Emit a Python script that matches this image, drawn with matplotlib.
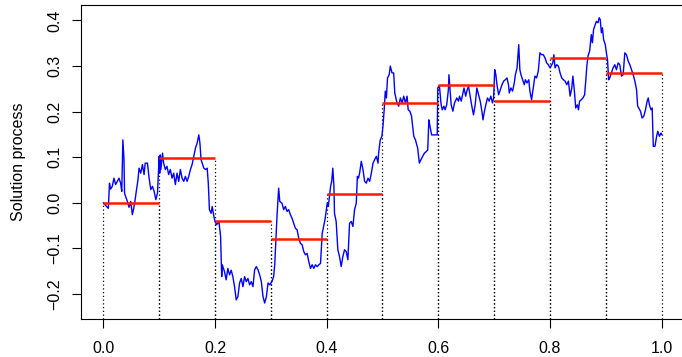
import matplotlib
matplotlib.use("Agg")
import matplotlib.pyplot as plt

plt.rcParams['font.family'] = ['Liberation Sans', 'DejaVu Sans']

# Solution path
t = [0.000, 0.007, 0.009, 0.011, 0.013, 0.016, 0.019, 0.022, 0.025, 0.028, 0.031, 0.033, 0.035, 0.037, 0.038,
     0.041, 0.044, 0.046, 0.049, 0.052, 0.054, 0.057, 0.059, 0.062, 0.064, 0.067, 0.070, 0.073, 0.075, 0.079,
     0.082, 0.085, 0.088, 0.091, 0.094, 0.097, 0.100, 0.101, 0.102, 0.103, 0.106, 0.108, 0.111, 0.114, 0.117,
     0.120, 0.123, 0.126, 0.129, 0.132, 0.135, 0.138, 0.141, 0.144, 0.147, 0.150, 0.153, 0.156, 0.159, 0.162,
     0.165, 0.168, 0.171, 0.173, 0.175,
     0.180, 0.183, 0.186, 0.188, 0.190, 0.193, 0.195, 0.198, 0.200, 0.203, 0.207, 0.210, 0.212, 0.213, 0.217,
     0.220, 0.223, 0.226, 0.229, 0.232, 0.235, 0.238, 0.241, 0.244, 0.247, 0.250, 0.253, 0.256, 0.259, 0.262,
     0.265, 0.268, 0.271, 0.274, 0.277, 0.280, 0.283, 0.286, 0.289, 0.292, 0.295, 0.298, 0.302, 0.305, 0.307,
     0.311, 0.314, 0.316, 0.320, 0.323, 0.326, 0.329, 0.332, 0.335, 0.338, 0.341, 0.344, 0.347, 0.350, 0.353,
     0.356, 0.359, 0.362, 0.365, 0.368, 0.371, 0.374, 0.377, 0.380, 0.383, 0.386, 0.389,
     0.392, 0.397, 0.401, 0.403, 0.405, 0.407, 0.409, 0.411, 0.413, 0.414, 0.417, 0.420, 0.423, 0.426, 0.429,
     0.432, 0.435, 0.438, 0.441, 0.444, 0.447, 0.450, 0.453, 0.455, 0.457, 0.459, 0.462, 0.465, 0.468, 0.471,
     0.474, 0.477, 0.480, 0.483, 0.486, 0.489, 0.492, 0.493, 0.496, 0.499, 0.501, 0.503, 0.505, 0.507, 0.509,
     0.512, 0.514, 0.517, 0.520, 0.522, 0.526, 0.529, 0.532, 0.535, 0.538, 0.541, 0.544, 0.546, 0.549, 0.552,
     0.556, 0.559, 0.563, 0.566, 0.569, 0.572, 0.575, 0.578, 0.581, 0.583, 0.585, 0.588, 0.591, 0.595, 0.598,
     0.599, 0.602, 0.605, 0.607, 0.610, 0.612, 0.615, 0.618, 0.619, 0.621, 0.623, 0.626, 0.629, 0.633, 0.636,
     0.638, 0.641, 0.644, 0.646, 0.649, 0.651, 0.654, 0.656, 0.658, 0.660, 0.663, 0.666, 0.669, 0.672, 0.675,
     0.678, 0.680, 0.682, 0.685, 0.688, 0.691, 0.694, 0.697, 0.699, 0.701, 0.703, 0.705, 0.708, 0.711, 0.714,
     0.717, 0.720, 0.723, 0.726, 0.727, 0.730, 0.733, 0.736, 0.738, 0.741, 0.742, 0.744, 0.746, 0.748, 0.751,
     0.754, 0.756, 0.759, 0.762, 0.764, 0.767, 0.770, 0.773, 0.776, 0.779, 0.782,
     0.785, 0.788, 0.791, 0.794, 0.797, 0.800, 0.802, 0.805, 0.807, 0.809, 0.812, 0.815, 0.818, 0.821, 0.824,
     0.827, 0.830, 0.833, 0.836, 0.839, 0.841, 0.844, 0.846, 0.849, 0.851, 0.853, 0.856, 0.859, 0.862, 0.864,
     0.866, 0.868, 0.871, 0.874, 0.876, 0.878, 0.881, 0.883, 0.886, 0.888, 0.890, 0.892, 0.894, 0.896, 0.899,
     0.901, 0.903, 0.905, 0.907, 0.910, 0.913, 0.916, 0.919, 0.922, 0.925, 0.928, 0.931, 0.934, 0.937, 0.940,
     0.943, 0.946, 0.949, 0.952, 0.955, 0.957, 0.959, 0.962, 0.965, 0.968, 0.971, 0.974, 0.976, 0.978, 0.981,
     0.983, 0.985, 0.988, 0.991, 0.993, 0.996, 0.999, 1.000]

x = [0.000, -0.010, -0.012, 0.043, 0.030, 0.036, 0.054, 0.040, 0.047, 0.054, 0.043, 0.025, 0.138, 0.095, 0.021,
     0.010, 0.000, -0.010, 0.003, -0.026, -0.015, 0.007, 0.025, 0.050, 0.076, 0.065, 0.084, 0.062, 0.087, 0.087,
     0.054, 0.029, 0.036, 0.025, 0.007, 0.021, 0.102, 0.065, 0.105, 0.073, 0.109, 0.087, 0.073, 0.080, 0.062,
     0.073, 0.054, 0.065, 0.040, 0.065, 0.047, 0.073, 0.054, 0.047, 0.058, 0.047, 0.058, 0.073, 0.084, 0.102,
     0.120, 0.131, 0.149, 0.131, 0.095,
     0.076, 0.073, 0.076, 0.043, -0.015, -0.023, -0.008, -0.030, -0.041, -0.048, -0.041, -0.074, -0.162, -0.136, -0.151,
     -0.169, -0.144, -0.158, -0.148, -0.162, -0.184, -0.213, -0.206, -0.176, -0.166, -0.184, -0.162, -0.173, -0.166, -0.180,
     -0.173, -0.184, -0.147, -0.140, -0.147, -0.158, -0.173, -0.206, -0.220, -0.206, -0.176, -0.180, -0.173, -0.162, -0.136,
     -0.030, 0.032, 0.003, -0.001, -0.015, -0.008, -0.019, -0.015, -0.026, -0.034, -0.045, -0.056, -0.059, -0.078, -0.089,
     -0.092, -0.107, -0.114, -0.111, -0.129, -0.144, -0.136, -0.144, -0.136, -0.140, -0.136, -0.133,
     -0.067, -0.037, -0.001, -0.008, 0.014, 0.036, 0.047, 0.076, 0.036, -0.023, -0.041, -0.103, -0.118, -0.140, -0.118,
     -0.103, -0.107, -0.125, -0.045, -0.041, -0.052, -0.015, -0.001, 0.058, 0.054, 0.065, 0.091, 0.073, 0.047, 0.043,
     0.054, 0.047, 0.065, 0.087, 0.095, 0.102, 0.087, 0.109, 0.138, 0.146, 0.171, 0.204, 0.245, 0.230, 0.274,
     0.281, 0.300, 0.285, 0.285, 0.241, 0.219, 0.212, 0.230, 0.219, 0.234, 0.219, 0.234, 0.204, 0.201, 0.190,
     0.146, 0.138, 0.120, 0.087, 0.095, 0.102, 0.109, 0.112, 0.116, 0.182, 0.168, 0.149, 0.149, 0.149, 0.149,
     0.252, 0.256, 0.215, 0.204, 0.212, 0.204, 0.215, 0.248, 0.281, 0.248, 0.215, 0.201, 0.219, 0.230, 0.223,
     0.234, 0.223, 0.241, 0.252, 0.234, 0.245, 0.256, 0.241, 0.226, 0.212, 0.193, 0.215, 0.252, 0.237, 0.223,
     0.201, 0.182, 0.197, 0.215, 0.230, 0.223, 0.234, 0.219, 0.230, 0.292, 0.281, 0.259, 0.237, 0.248, 0.259,
     0.267, 0.270, 0.274, 0.256, 0.241, 0.252, 0.245, 0.263, 0.281, 0.296, 0.314, 0.347, 0.292, 0.281, 0.270,
     0.259, 0.270, 0.263, 0.270, 0.245, 0.226, 0.252, 0.278, 0.274, 0.289, 0.329,
     0.325, 0.325, 0.318, 0.307, 0.303, 0.296, 0.300, 0.307, 0.325, 0.296, 0.303, 0.300, 0.285, 0.274, 0.270,
     0.267, 0.259, 0.267, 0.234, 0.252, 0.278, 0.241, 0.208, 0.215, 0.204, 0.223, 0.226, 0.230, 0.237, 0.267,
     0.300, 0.322, 0.333, 0.369, 0.351, 0.380, 0.391, 0.398, 0.395, 0.406, 0.402, 0.373, 0.384, 0.358, 0.347,
     0.329, 0.314, 0.270, 0.274, 0.285, 0.296, 0.303, 0.292, 0.307, 0.303, 0.278, 0.281, 0.329, 0.325, 0.311,
     0.303, 0.292, 0.281, 0.267, 0.248, 0.212, 0.208, 0.201, 0.186, 0.190, 0.204, 0.223, 0.230, 0.215, 0.204,
     0.208, 0.124, 0.124, 0.146, 0.157, 0.146, 0.153, 0.150]

# Piecewise constant approximation
grid = [0.0, 0.1, 0.2, 0.3, 0.4, 0.5, 0.6, 0.7, 0.8, 0.9, 1.0]
levels = [0.000, 0.098, -0.040, -0.080, 0.019, 0.219, 0.259, 0.223, 0.318, 0.284]

xticks = [0.0, 0.2, 0.4, 0.6, 0.8, 1.0]
yticks = [-0.2, -0.1, 0.0, 0.1, 0.2, 0.3, 0.4]

fig = plt.figure(figsize=(6.82, 3.57), dpi=100)
ax = fig.add_axes([81/682, 38/357, 603/682, 314/357])

ymin, ymax = -0.255, 0.434
ax.set_xlim(-0.04, 1.04)
ax.set_ylim(ymin, ymax)

for i in range(len(levels)):
    for g in (grid[i], grid[i+1]):
        ax.plot([g, g], [ymin, levels[i]], color='black', linestyle=(0, (1, 2)), linewidth=0.9, zorder=1)

ax.plot(t, x, color='#0000FF', linewidth=1.0, zorder=2)

for i in range(len(levels)):
    ax.plot([grid[i], grid[i+1]], [levels[i], levels[i]], color='#FF1A00', linewidth=1.8, zorder=3,
            solid_capstyle='butt')

ax.set_xticks(xticks)
ax.set_xticklabels([f"{v:.1f}" for v in xticks])
ax.set_yticks(yticks)
ax.set_yticklabels([f"{v:.1f}".replace('-', '\u2212') for v in yticks], rotation=90, va='center')
ax.tick_params(direction='out', length=6.5, width=0.8, labelsize=11.5, pad=7)
ax.tick_params(axis='x', pad=9)
ax.set_ylabel("Solution process", fontsize=11.5, labelpad=15)
for s in ax.spines.values():
    s.set_linewidth(0.8)

fig.savefig("out.png", dpi=100)
